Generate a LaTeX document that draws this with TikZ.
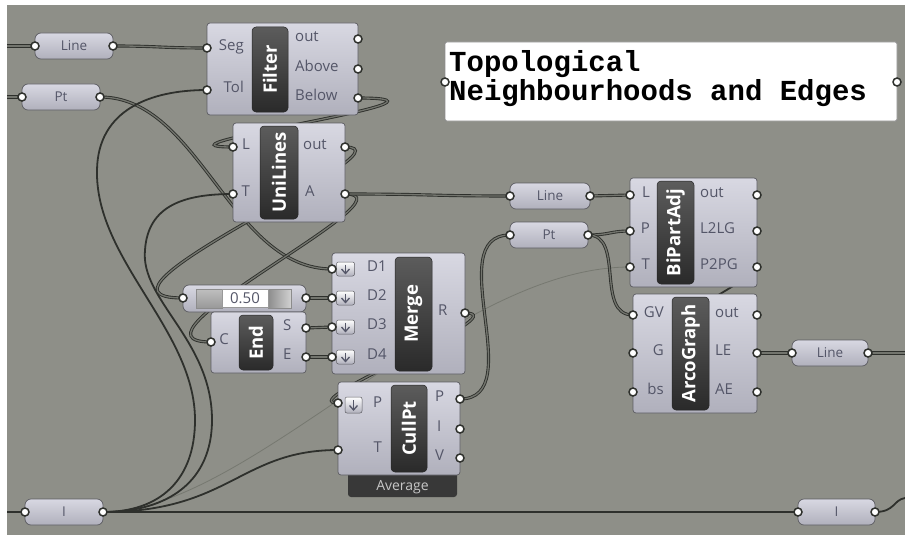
\documentclass[tikz,border=0pt]{standalone}
\usepackage{fontspec}
\setmainfont{Open Sans}
\newfontfamily\monof{Liberation Mono}
\usetikzlibrary{fit}
\pgfdeclarelayer{bgl}
\pgfdeclarelayer{wires}
\pgfsetlayers{bgl,wires,main}
\definecolor{canvas}{RGB}{142,143,136}
\definecolor{wire}{RGB}{46,48,44}
\definecolor{wirein}{RGB}{115,117,110}
\definecolor{comptop}{RGB}{216,216,226}
\definecolor{compbot}{RGB}{176,176,188}
\definecolor{compline}{RGB}{92,92,98}
\definecolor{bartop}{RGB}{92,92,92}
\definecolor{barbot}{RGB}{42,42,42}
\definecolor{lbl}{RGB}{84,86,104}
\definecolor{faint}{RGB}{118,120,112}
\begin{document}
\begin{tikzpicture}[x=1pt,y=-1pt,
  comp/.style={draw=compline, line width=0.7pt, rounded corners=3pt, top color=comptop, bottom color=compbot, inner sep=0pt},
  bar/.style={draw=black!85, line width=0.5pt, rounded corners=4pt, top color=bartop, bottom color=barbot, inner sep=0pt},
  param/.style={draw=compline, line width=0.7pt, rounded corners=6pt, top color=comptop, bottom color=compbot, inner sep=0pt, minimum width=78pt, minimum height=26pt, text=lbl, font=\fontsize{13.5}{13.5}\selectfont},
  grip/.style={circle, draw=wire, fill=white, line width=1.5pt, minimum size=8pt, inner sep=0pt},
  lblin/.style={anchor=mid east, text=lbl, inner sep=0pt, font=\fontsize{15}{15}\selectfont},
  lblout/.style={anchor=mid west, text=lbl, inner sep=0pt, font=\fontsize{15}{15}\selectfont},
  barlbl/.style={rotate=90, text=white, inner sep=0pt, font=\bfseries\fontsize{18.5}{18.5}\selectfont},
  icon/.style={draw=compline, line width=0.5pt, rounded corners=2pt, top color=white, bottom color=compbot, minimum width=18pt, minimum height=14pt, inner sep=0pt},
  arrowico/.style={draw=lbl, line width=1.3pt},
  dw/.style={draw=wire, line width=0.9pt, double=wirein, double distance=1.3pt},
  sw/.style={draw=wire, line width=1.8pt},
  faintw/.style={draw=faint, line width=0.8pt}
]
\useasboundingbox (0,0) rectangle (905,535);
\begin{pgfonlayer}{bgl}
\fill[white] (0,0) rectangle (905,535);
\fill[canvas] (7,5) rectangle (905,535);
\end{pgfonlayer}

% ---------- text panel
\node[fit={(445,42) (897,121)}, fill=white, draw=black!45, line width=0.8pt, rounded corners=1.5pt, inner sep=0pt] (panel) {};
\node[anchor=base west, inner sep=0pt, font=\monof\bfseries\fontsize{29}{29}\selectfont] (t1) at (449,72) {Topological};
\node[anchor=base west, inner sep=0pt, font=\monof\bfseries\fontsize{29}{29}\selectfont] (t2) at (449,100) {Neighbourhoods and Edges};
\node[grip] (pan-in) at (445,82) {};
\node[grip] (pan-out) at (897,82) {};

% ---------- params
\node[param] (ltl) at (74,46) {Line};
\node[grip] (ltl-in) at (35,46) {};
\node[grip] (ltl-out) at (113,46) {};
\node[param] (ptl) at (61,97) {Pt};
\node[grip] (ptl-in) at (22,97) {};
\node[grip] (ptl-out) at (100,97) {};
\node[param, minimum width=80pt] (lm) at (550,196) {Line};
\node[grip] (lm-in) at (510,196) {};
\node[grip] (lm-out) at (590,196) {};
\node[param] (pm) at (549,235) {Pt};
\node[grip] (pm-in) at (510,235) {};
\node[grip] (pm-out) at (588,235) {};
\node[param, minimum width=76pt] (lr) at (830,353) {Line};
\node[grip] (lr-in) at (792,353) {};
\node[grip] (lr-out) at (868,353) {};
\node[param] (il) at (64,512) {I};
\node[grip] (il-in) at (25,512) {};
\node[grip] (il-out) at (103,512) {};
\node[param, minimum width=77pt] (ir) at (836.5,512) {I};
\node[grip] (ir-in) at (798,512) {};
\node[grip] (ir-out) at (875,512) {};

% ---------- Filter
\node[comp, fit={(207,23) (358,115)}] (filter) {};
\node[bar, fit={(252,27) (288,112)}] (filter-bar) {};
\node[barlbl] at (filter-bar.center) {Filter};
\node[lblin] at (244,48) {Seg};
\node[lblin] at (244,90) {Tol};
\node[lblout] at (295,39) {out};
\node[lblout] at (295,69) {Above};
\node[lblout] at (295,98) {Below};
\node[grip] (f-seg) at (207,48) {};
\node[grip] (f-tol) at (207,90) {};
\node[grip] (f-out) at (358,39) {};
\node[grip] (f-above) at (358,69) {};
\node[grip] (f-below) at (358,98) {};

% ---------- UniLines
\node[comp, fit={(233,123) (345,222)}] (uni) {};
\node[bar, fit={(260,126) (298,219)}] (uni-bar) {};
\node[barlbl] at (uni-bar.center) {UniLines};
\node[lblin] at (250,147) {L};
\node[lblin] at (250,194) {T};
\node[lblout] at (303,147) {out};
\node[lblout] at (305,194) {A};
\node[grip] (u-l) at (233,147) {};
\node[grip] (u-t) at (233,194) {};
\node[grip] (u-out) at (345,147) {};
\node[grip] (u-a) at (345,194) {};

% ---------- BiPartAdj
\node[comp, fit={(630,178) (757,287)}] (bpa) {};
\node[bar, fit={(657,181) (694,284)}] (bpa-bar) {};
\node[barlbl] at (bpa-bar.center) {BiPartAdj};
\node[lblin] at (650,195) {L};
\node[lblin] at (650,231) {P};
\node[lblin] at (650,267) {T};
\node[lblout] at (700,195) {out};
\node[lblout] at (700,231) {L2LG};
\node[lblout] at (700,267) {P2PG};
\node[grip] (b-l) at (630,195) {};
\node[grip] (b-p) at (630,231) {};
\node[grip] (b-t) at (630,267) {};
\node[grip] (b-out) at (757,195) {};
\node[grip] (b-l2lg) at (757,231) {};
\node[grip] (b-p2pg) at (757,267) {};

% ---------- ArcoGraph
\node[comp, fit={(633,294) (757,413)}] (arco) {};
\node[bar, fit={(672,297) (709,410)}] (arco-bar) {};
\node[barlbl] at (arco-bar.center) {ArcoGraph};
\node[lblin] at (664,315) {GV};
\node[lblin] at (664,353) {G};
\node[lblin] at (664,392) {bs};
\node[lblout] at (715,315) {out};
\node[lblout] at (715,353) {LE};
\node[lblout] at (715,392) {AE};
\node[grip] (a-gv) at (633,315) {};
\node[grip] (a-g) at (633,353) {};
\node[grip] (a-bs) at (633,392) {};
\node[grip] (a-out) at (757,315) {};
\node[grip] (a-le) at (757,353) {};
\node[grip] (a-ae) at (757,392) {};

% ---------- Merge
\node[comp, fit={(332,253) (465,374)}] (merge) {};
\node[bar, fit={(395,257) (432,371)}] (merge-bar) {};
\node[barlbl] at (merge-bar.center) {Merge};
\foreach \yy/\nm in {269/D1,298/D2,327/D3,357/D4}{
  \node[icon] (mi-\nm) at (345.5,\yy) {};
  \draw[arrowico] (345.5,\yy-4.5) -- (345.5,\yy+4);
  \draw[arrowico] (341.5,\yy) -- (345.5,\yy+4.5) -- (349.5,\yy);
  \node[lblout] at (367,\yy) {\nm};
}
\node[lblout] at (438,313) {R};
\node[grip] (m-d1) at (332,269) {};
\node[grip] (m-d2) at (332,298) {};
\node[grip] (m-d3) at (332,327) {};
\node[grip] (m-d4) at (332,357) {};
\node[grip] (m-r) at (465,313) {};

% ---------- slider (point on curve)
\node[comp, rounded corners=6pt, fit={(183,285) (306,312)}] (sld) {};
\node[fit={(196,289) (222,308)}, inner sep=0pt, top color=black!25, bottom color=black!40, draw=black!45, line width=0.4pt] (sld-l) {};
\node[fit={(268,289) (291,308)}, inner sep=0pt, left color=black!45, right color=black!18, draw=black!45, line width=0.4pt] (sld-r) {};
\node[fit={(222,289) (268,307)}, inner sep=0pt, fill=white, draw=black!40, line width=0.4pt] (sld-v) {};
\node[text=lbl, font=\fontsize{15}{15}\selectfont, inner sep=0pt] at (sld-v.center) {0.50};
\node[grip] (s-in) at (183,298) {};
\node[grip] (s-out) at (306,298) {};

% ---------- End
\node[comp, fit={(211,312) (306,373)}] (endc) {};
\node[bar, fit={(239,315) (273,370)}] (end-bar) {};
\node[barlbl] at (end-bar.center) {End};
\node[lblin] at (229,342) {C};
\node[lblout] at (283,328) {S};
\node[lblout] at (283,357) {E};
\node[grip] (e-c) at (211,342) {};
\node[grip] (e-s) at (306,328) {};
\node[grip] (e-e) at (306,357) {};

% ---------- CullPt
\node[fit={(348,466) (457,497)}, inner sep=0pt, fill=black!78, rounded corners=3pt] (avg) {};
\node[text=black!22, font=\fontsize{14}{14}\selectfont, inner sep=0pt] at (402.5,487) {Average};
\node[comp, fit={(338,382) (460,475)}] (cull) {};
\node[bar, fit={(391,385) (427,472)}] (cull-bar) {};
\node[barlbl] at (cull-bar.center) {CullPt};
\node[icon, minimum width=17pt, minimum height=16pt] (ci) at (353.5,405) {};
\draw[arrowico] (353.5,400) -- (353.5,409.5);
\draw[arrowico] (349.5,405.5) -- (353.5,410) -- (357.5,405.5);
\node[lblout] at (373,405) {P};
\node[lblin] at (382,450) {T};
\node[lblout] at (435,399) {P};
\node[lblout] at (437,429) {I};
\node[lblout] at (435,458) {V};
\node[grip] (c-pin) at (338,403) {};
\node[grip] (c-t) at (338,450) {};
\node[grip] (c-pout) at (460,399) {};
\node[grip] (c-i) at (460,429) {};
\node[grip] (c-v) at (460,458) {};

% ---------- free ends
\coordinate (eL1) at (7,46);
\coordinate (eL2) at (7,97);
\coordinate (eL3) at (7,512);
\coordinate (eR2) at (905,353);
\coordinate (eR3) at (905,498);

% ---------- wires
\begin{pgfonlayer}{wires}
\draw[faintw] (il-out.center) .. controls (250,512) and (450,267) .. (b-t.center);
\draw[dw] (eL1) -- (ltl-in.center);
\draw[dw] (ltl-out.center) .. controls (160,46) and (160,48) .. (f-seg.center);
\draw[dw] (eL2) -- (ptl-in.center);
\draw[dw] (ptl-out.center) .. controls (200,97) and (230,269) .. (m-d1.center);
\draw[sw] (il-out.center) .. controls (160,512) and (195,480) .. (195,420) .. controls (195,330) and (95,260) .. (97,170) .. controls (98,110) and (150,90) .. (f-tol.center);
\draw[sw] (il-out.center) .. controls (170,512) and (212,480) .. (212,420) .. controls (212,340) and (140,300) .. (145,250) .. controls (148,205) and (185,194) .. (u-t.center);
\draw[dw] (f-below.center) .. controls (490,98) and (130,147) .. (u-l.center);
\draw[dw] (u-out.center) .. controls (420,147) and (60,298) .. (s-in.center);
\draw[dw] (u-a.center) .. controls (420,194) and (110,342) .. (e-c.center);
\draw[dw] (u-a.center) .. controls (430,194) and (430,196) .. (lm-in.center);
\draw[dw] (s-out.center) -- (m-d2.center);
\draw[dw] (e-s.center) -- (m-d3.center);
\draw[dw] (e-e.center) -- (m-d4.center);
\draw[dw] (m-r.center) .. controls (520,313) and (290,403) .. (c-pin.center);
\draw[dw] (c-pout.center) .. controls (530,399) and (440,235) .. (pm-in.center);
\draw[sw] (il-out.center) .. controls (230,512) and (240,450) .. (c-t.center);
\draw[sw] (il-out.center) -- (ir-in.center);
\draw[sw] (ir-out.center) .. controls (895,512) and (893,500) .. (eR3);
\draw[sw] (eL3) -- (il-in.center);
\draw[dw] (lm-out.center) -- (b-l.center);
\draw[dw] (pm-out.center) .. controls (610,235) and (610,231) .. (b-p.center);
\draw[dw] (pm-out.center) .. controls (625,235) and (595,315) .. (a-gv.center);
\draw[sw] (b-p2pg.center) .. controls (775,267) and (610,353) .. (a-g.center);
\draw[dw] (a-le.center) -- (lr-in.center);
\draw[dw] (lr-out.center) -- (eR2);
\end{pgfonlayer}
\end{tikzpicture}
\end{document}
